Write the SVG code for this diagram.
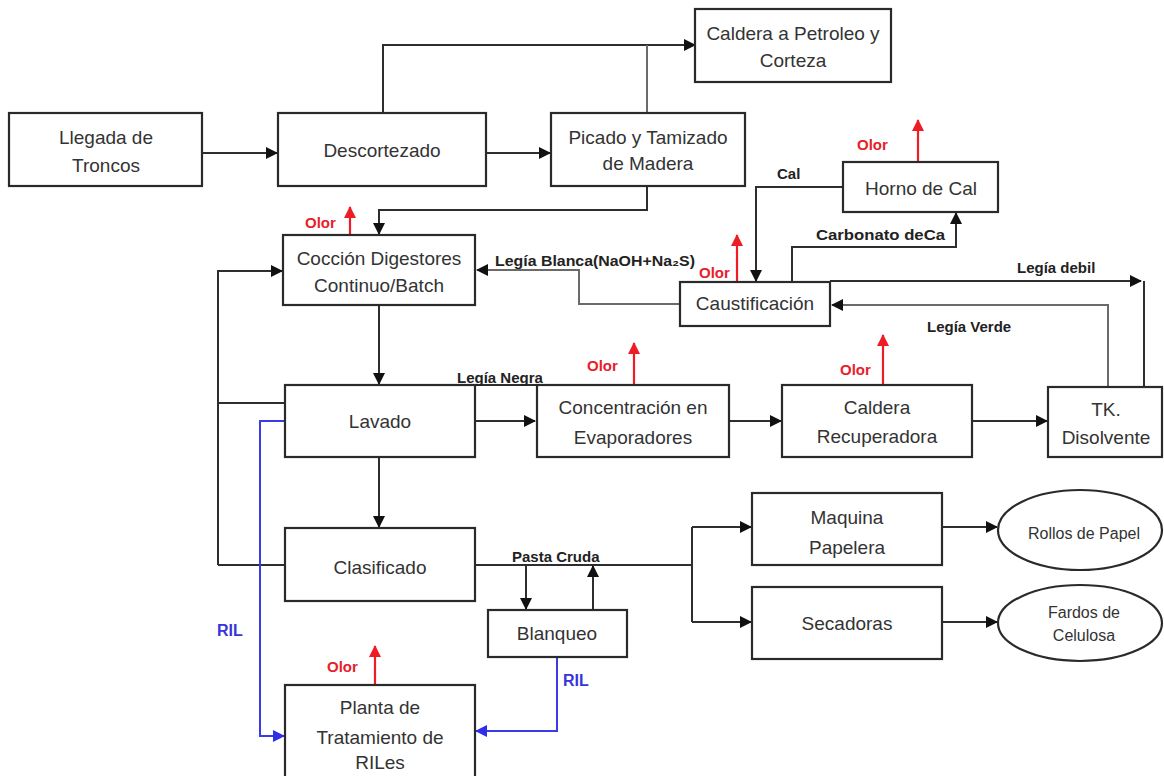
<svg xmlns="http://www.w3.org/2000/svg" width="1164" height="776" viewBox="0 0 1164 776">
<defs>
<style>
.box{fill:#fff;stroke:#2a2a2a;stroke-width:2.2}
.t{font-family:"Liberation Sans",Arial,sans-serif;font-size:19px;fill:#333;text-anchor:middle}
.te{font-family:"Liberation Sans",Arial,sans-serif;font-size:16px;fill:#333;text-anchor:middle}
.lbl{font-family:"Liberation Sans",Arial,sans-serif;font-size:15px;font-weight:bold;fill:#222}
.olor{font-family:"Liberation Sans",Arial,sans-serif;font-size:15px;font-weight:bold;fill:#e8202a}
.ril{font-family:"Liberation Sans",Arial,sans-serif;font-size:16px;font-weight:bold;fill:#3535d8}
.c{fill:none;stroke:#2e2e2e;stroke-width:2}
.g{fill:none;stroke:#6a6a6a;stroke-width:2}
.r{fill:none;stroke:#ee1c24;stroke-width:2.2}
.b{fill:none;stroke:#3a3ae6;stroke-width:2}
</style>
<marker id="ak" markerWidth="12" markerHeight="12" refX="11" refY="6" orient="auto" markerUnits="userSpaceOnUse"><path d="M0,0 L12,6 L0,12 z" fill="#111"/></marker>
<marker id="ar" markerWidth="12" markerHeight="12" refX="11" refY="6" orient="auto" markerUnits="userSpaceOnUse"><path d="M0,0 L12,6 L0,12 z" fill="#ee1c24"/></marker>
<marker id="ab" markerWidth="12" markerHeight="12" refX="11" refY="6" orient="auto" markerUnits="userSpaceOnUse"><path d="M0,0 L12,6 L0,12 z" fill="#2f2fe6"/></marker>
</defs>
<rect width="1164" height="776" fill="#fff"/>

<g id="connectors">
<path class="c" d="M202 153 H277" marker-end="url(#ak)"/>
<path class="c" d="M486 153 H550" marker-end="url(#ak)"/>
<path class="c" d="M383 113 V45 H695" marker-end="url(#ak)"/>
<path class="g" d="M647 113 V45"/>
<path class="c" d="M647 186 V210 H379 V234" marker-end="url(#ak)"/>
<path class="c" d="M843 187 H756 V281" marker-end="url(#ak)"/>
<path class="c" d="M792 282 V247 H956 V213" marker-end="url(#ak)"/>
<path class="g" d="M680 304 H579 V270 H477" marker-end="url(#ak)"/>
<path class="c" d="M830 281 H1141" marker-end="url(#ak)"/>
<path class="c" d="M1144 281 V387"/>
<path class="g" d="M1108 387 V305 H832" marker-end="url(#ak)"/>
<path class="c" d="M379 305 V384" marker-end="url(#ak)"/>
<path class="c" d="M218 565 V271 H282" marker-end="url(#ak)"/>
<path class="c" d="M285 403 H218"/>
<path class="c" d="M285 565 H218"/>
<path class="c" d="M475 421 H535" marker-end="url(#ak)"/>
<path class="c" d="M475 385 H537"/>
<path class="c" d="M729 421 H781" marker-end="url(#ak)"/>
<path class="c" d="M972 421 H1047" marker-end="url(#ak)"/>
<path class="c" d="M379 457 V527" marker-end="url(#ak)"/>
<path class="c" d="M475 565 H692"/>
<path class="c" d="M692 527 V622"/>
<path class="c" d="M692 527 H751" marker-end="url(#ak)"/>
<path class="c" d="M692 622 H751" marker-end="url(#ak)"/>
<path class="c" d="M526 565 V609" marker-end="url(#ak)"/>
<path class="c" d="M593 610 V566" marker-end="url(#ak)"/>
<path class="c" d="M942 527 H997" marker-end="url(#ak)"/>
<path class="c" d="M942 622 H997" marker-end="url(#ak)"/>
<path class="b" d="M285 421 H260 V736 H284" marker-end="url(#ab)"/>
<path class="b" d="M557 657 V731 H476" marker-end="url(#ab)"/>
<path class="r" d="M350 235 V207" marker-end="url(#ar)"/>
<path class="r" d="M918 162 V120" marker-end="url(#ar)"/>
<path class="r" d="M737 282 V235" marker-end="url(#ar)"/>
<path class="r" d="M634 385 V343" marker-end="url(#ar)"/>
<path class="r" d="M883 385 V335" marker-end="url(#ar)"/>
<path class="r" d="M375 685 V646" marker-end="url(#ar)"/>
</g>

<g id="labels">
<text class="lbl" x="495" y="266" textLength="200" lengthAdjust="spacingAndGlyphs">Legía Blanca(NaOH+Na₂S)</text>
<text class="lbl" x="777" y="179">Cal</text>
<text class="lbl" x="816" y="240" textLength="129" lengthAdjust="spacingAndGlyphs">Carbonato deCa</text>
<text class="lbl" x="1017" y="273">Legía debil</text>
<text class="lbl" x="927" y="332">Legía Verde</text>
<text class="lbl" x="457" y="383">Legía Negra</text>
<text class="lbl" x="512" y="562">Pasta Cruda</text>
<text class="olor" x="305" y="228">Olor</text>
<text class="olor" x="857" y="150">Olor</text>
<text class="olor" x="699" y="278">Olor</text>
<text class="olor" x="587" y="371">Olor</text>
<text class="olor" x="840" y="375">Olor</text>
<text class="olor" x="327" y="672">Olor</text>
<text class="ril" x="217" y="636">RIL</text>
<text class="ril" x="563" y="686">RIL</text>
</g>

<g id="llegada"><rect class="box" x="9" y="113" width="193" height="73"/><text class="t" x="106" y="144">Llegada de</text><text class="t" x="106" y="172">Troncos</text></g>
<g id="descortezado"><rect class="box" x="278" y="113" width="208" height="73"/><text class="t" x="382" y="157">Descortezado</text></g>
<g id="picado"><rect class="box" x="551" y="113" width="194" height="73"/><text class="t" x="648" y="144">Picado y Tamizado</text><text class="t" x="648" y="170">de Madera</text></g>
<g id="caldera-petroleo"><rect class="box" x="695" y="9" width="196" height="73"/><text class="t" x="793" y="40">Caldera a Petroleo  y</text><text class="t" x="793" y="67">Corteza</text></g>
<g id="horno"><rect class="box" x="843" y="162" width="155" height="50"/><text class="t" x="921" y="195">Horno de Cal</text></g>
<g id="coccion"><rect class="box" x="283" y="235" width="192" height="70"/><text class="t" x="379" y="265">Cocción Digestores</text><text class="t" x="379" y="292">Continuo/Batch</text></g>
<g id="caustificacion"><rect class="box" x="680" y="282" width="150" height="44"/><text class="t" x="755" y="310">Caustificación</text></g>
<g id="lavado"><rect class="box" x="285" y="385" width="190" height="72"/><text class="t" x="380" y="428">Lavado</text></g>
<g id="concentracion"><rect class="box" x="537" y="385" width="192" height="72"/><text class="t" x="633" y="414">Concentración  en</text><text class="t" x="633" y="444">Evaporadores</text></g>
<g id="caldera-recuperadora"><rect class="box" x="782" y="385" width="190" height="72"/><text class="t" x="877" y="414">Caldera</text><text class="t" x="877" y="443">Recuperadora</text></g>
<g id="tk"><rect class="box" x="1048" y="387" width="114" height="70"/><text class="t" x="1106" y="416">TK.</text><text class="t" x="1106" y="444">Disolvente</text></g>
<g id="clasificado"><rect class="box" x="285" y="528" width="190" height="73"/><text class="t" x="380" y="574">Clasificado</text></g>
<g id="blanqueo"><rect class="box" x="488" y="610" width="139" height="47"/><text class="t" x="557" y="640">Blanqueo</text></g>
<g id="planta"><rect class="box" x="285" y="685" width="190" height="100"/><text class="t" x="380" y="714">Planta  de</text><text class="t" x="380" y="744">Tratamiento  de</text><text class="t" x="380" y="769">RILes</text></g>
<g id="maquina"><rect class="box" x="752" y="493" width="190" height="72"/><text class="t" x="847" y="524">Maquina</text><text class="t" x="847" y="554">Papelera</text></g>
<g id="secadoras"><rect class="box" x="752" y="587" width="190" height="72"/><text class="t" x="847" y="630">Secadoras</text></g>
<g id="rollos"><ellipse class="box" cx="1080" cy="530" rx="82" ry="40"/><text class="te" x="1084" y="539">Rollos de Papel</text></g>
<g id="fardos"><ellipse class="box" cx="1080" cy="623" rx="82" ry="38"/><text class="te" x="1084" y="618">Fardos de</text><text class="te" x="1084" y="641">Celulosa</text></g>
</svg>
